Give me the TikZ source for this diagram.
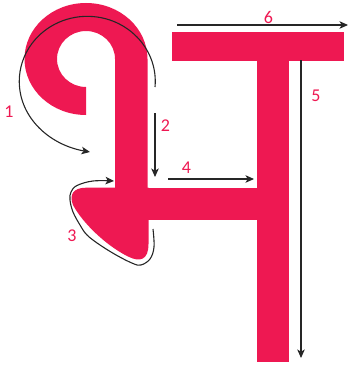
\documentclass[tikz,border=0pt]{standalone}
\usepackage{fontspec}
\setmainfont{Carlito}
\usetikzlibrary{arrows.meta}
\definecolor{bha}{RGB}{238,24,82}
\begin{document}
\begin{tikzpicture}[x=1pt,y=1pt,yscale=-1,
  stroke/.style={draw=black!85, line width=1.1pt, -{Stealth[length=8.5pt,width=7.5pt,inset=2.2pt]}},
  num/.style={text=bha, font=\fontsize{18}{18}\selectfont, inner sep=0pt}]
\useasboundingbox (0,0) rectangle (350,369);
% letter shape
\fill[bha] (86,87) -- (86,115) arc[start angle=90, end angle=360, x radius=61.5, y radius=56]
  -- (147.5,240) -- (115,240) -- (115,59)
  arc[start angle=0, end angle=-270, x radius=29, y radius=28] -- cycle;
\fill[bha] (148.5,187.7) -- (86,187.7) .. controls (73,187.7) and (69,195) .. (73,205)
  .. controls (82,222) and (105,245) .. (128,256.5)
  .. controls (140,262.5) and (148.5,260) .. (148.5,244) -- cycle;
\fill[bha] (147,187.5) rectangle (257,219.5);
\fill[bha] (256.5,61) rectangle (289,362);
\fill[bha] (171.7,31.7) rectangle (344,61);
% stroke arrows
\coordinate (a1s) at (155,87);
\coordinate (a1e) at (90,152);
\draw[stroke] (a1s) arc[start angle=5, end angle=-180, x radius=68, y radius=65]
  .. controls (19.3,118) and (50,145) .. (a1e);
\coordinate (a2s) at (155,113);
\coordinate (a2e) at (155,177);
\draw[stroke] (a2s) -- (a2e);
\draw[stroke] plot[smooth, tension=0.6] coordinates {(153,229) (154,247) (150,259) (141,265) (133,263.5) (117,255.5) (100,245) (87,235) (80,225) (73,212) (70,200) (71,192) (77,185.5) (93,181) (114,181)};
\coordinate (a4s) at (168,179);
\coordinate (a4e) at (254,179);
\draw[stroke] (a4s) -- (a4e);
\coordinate (a5s) at (301,60);
\coordinate (a5e) at (301,358);
\draw[stroke] (a5s) -- (a5e);
\coordinate (a6s) at (177,25);
\coordinate (a6e) at (348,25);
\draw[stroke] (a6s) -- (a6e);
% numbers
\node[num] (n1) at (9,111.5) {1};
\node[num] (n2) at (165.5,126) {2};
\node[num] (n3) at (72,236) {3};
\node[num] (n4) at (186.5,167.5) {4};
\node[num] (n5) at (316,96) {5};
\node[num] (n6) at (268.5,17) {6};
\end{tikzpicture}
\end{document}
